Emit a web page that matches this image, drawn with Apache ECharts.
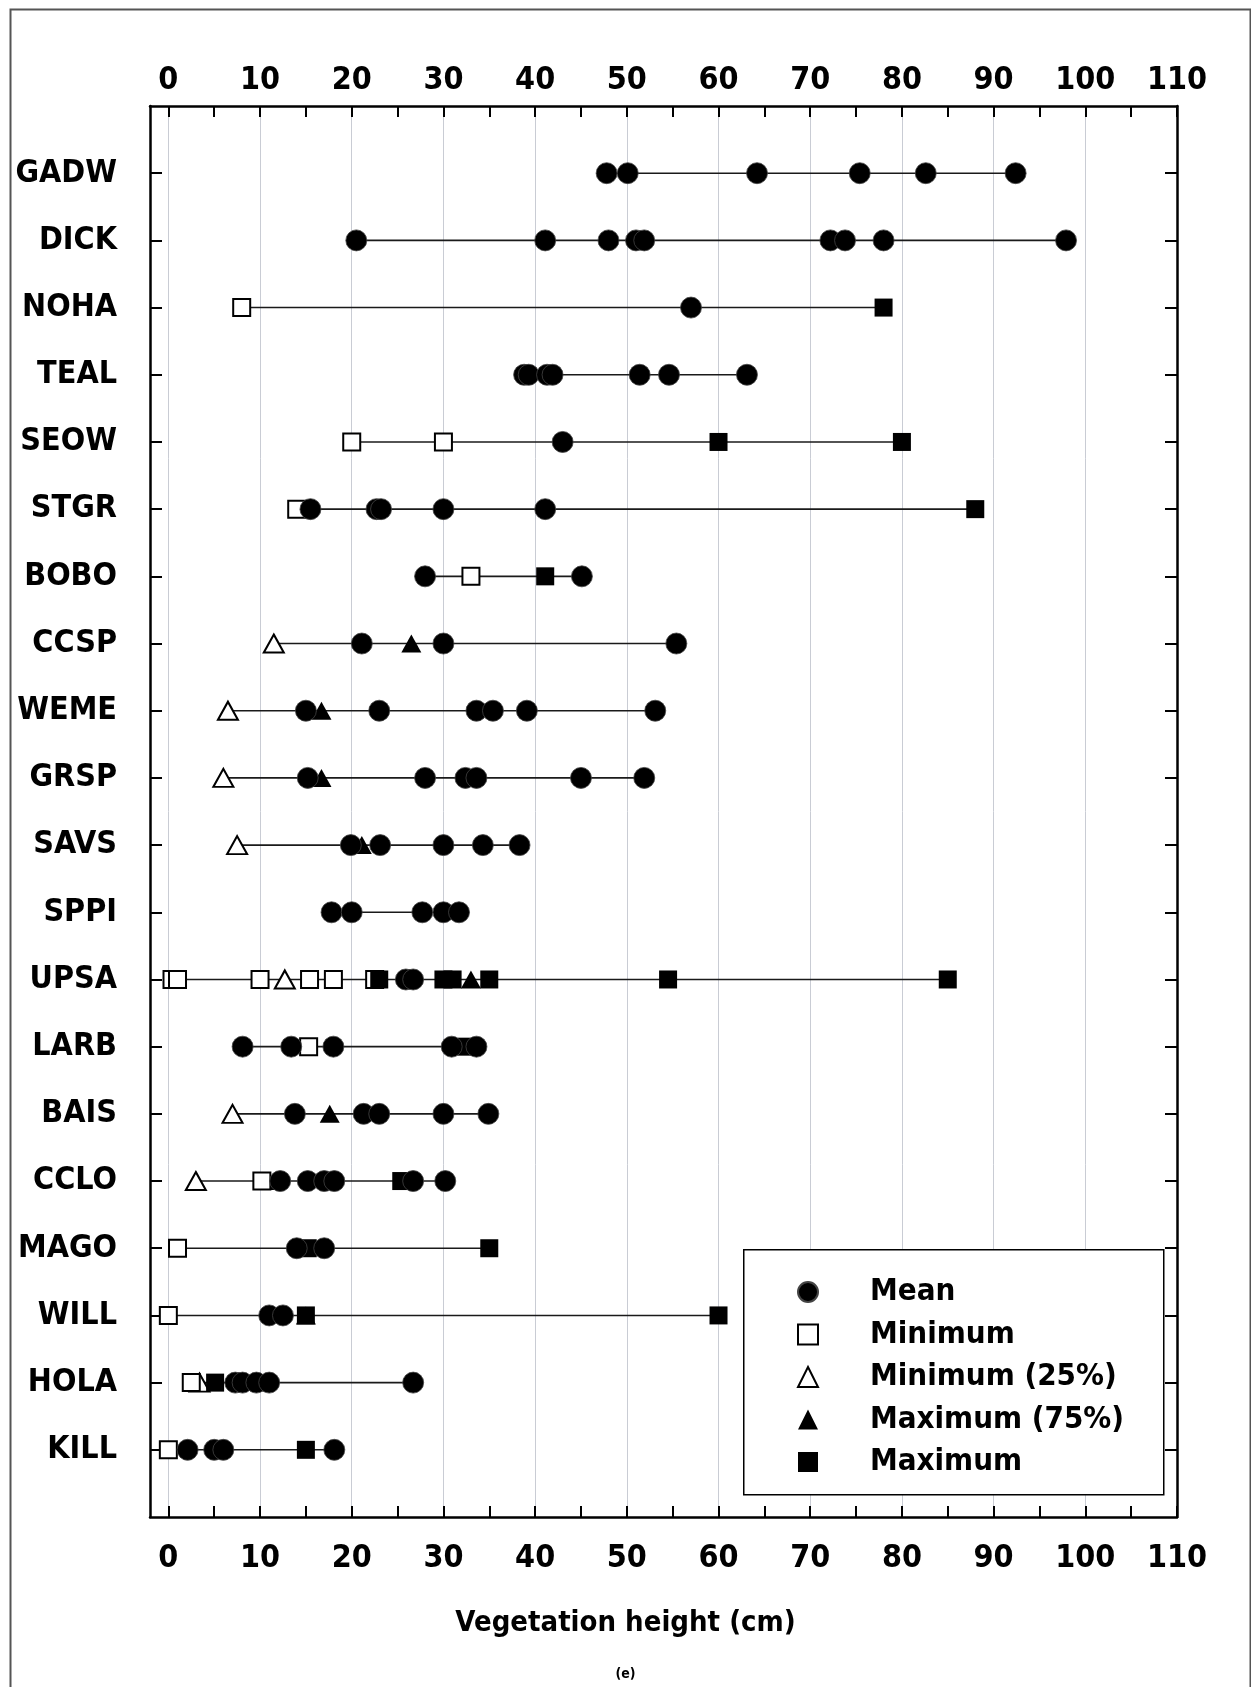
<!DOCTYPE html>
<html>
<head>
<meta charset="utf-8">
<script src="https://cdn.jsdelivr.net/npm/echarts@6/dist/echarts.min.js"></script>
<style>
html,body{margin:0;padding:0;background:#fff;}
#chart{width:1251px;height:1687px;}
</style>
</head>
<body>
<div id="chart"></div>
<script>
// ---- data ----
const categories = ['GADW','DICK','NOHA','TEAL','SEOW','STGR','BOBO','CCSP','WEME','GRSP','SAVS','SPPI','UPSA','LARB','BAIS','CCLO','MAGO','WILL','HOLA','KILL'];

const meanValues = [
  [47.8, 50.1, 64.2, 75.4, 82.6, 92.4],
  [20.5, 41.1, 48.0, 51.0, 51.9, 72.2, 73.8, 78.0, 97.9],
  [57.0],
  [38.8, 39.3, 41.3, 41.9, 51.4, 54.6, 63.1],
  [43.0],
  [15.5, 22.7, 23.2, 30.0, 41.1],
  [28.0, 45.1],
  [21.1, 30.0, 55.4],
  [15.0, 23.0, 33.6, 35.4, 39.1, 53.1],
  [15.2, 28.0, 32.4, 33.6, 45.0, 51.9],
  [19.9, 23.1, 30.0, 34.3, 38.3],
  [17.8, 20.0, 27.7, 30.0, 31.7],
  [25.9, 26.7],
  [8.1, 13.4, 18.0, 30.9, 33.6],
  [13.8, 21.3, 23.0, 30.0, 34.9],
  [12.2, 15.2, 17.0, 18.1, 26.7, 30.2],
  [14.0, 17.0],
  [11.0, 12.5],
  [7.3, 8.1, 9.6, 11.0, 26.7],
  [2.1, 5.0, 6.0, 18.1]
];

const minValues = [
  [], [], [8.0], [], [20.0, 30.0], [14.0], [33.0], [], [], [], [], [],
  [0.4, 1.0, 10.0, 15.4, 18.0, 22.5], [15.3], [], [10.2], [1.0], [0.0], [2.5], [0.0]
];

const min25Values = [
  [], [], [], [], [], [], [], [11.5], [6.5], [6.0], [7.5], [],
  [12.7], [], [7.0], [3.0], [], [], [3.4], []
];

const max75Values = [
  [], [], [], [], [], [], [], [26.5], [16.7], [16.7], [21.1], [],
  [33.0], [], [17.6], [11.6], [], [15.0], [10.0], []
];

const maxValues = [
  [], [], [78.0], [], [60.0, 80.0], [88.0], [41.1], [], [], [], [], [],
  [23.0, 30.0, 31.0, 35.0, 54.5, 85.0], [32.5], [], [25.4], [15.2, 35.0], [15.0, 60.0], [5.1], [15.0]
];

const xLabelValues = [0, 10, 20, 30, 40, 50, 60, 70, 80, 90, 100, 110];
const xTickValues = [0, 5, 10, 15, 20, 25, 30, 35, 40, 45, 50, 55, 60, 65, 70, 75, 80, 85, 90, 95, 100, 105, 110];
const xGridValues = [0, 10, 20, 30, 40, 50, 60, 70, 80, 90, 100];

// ---- build ----
const FONT = "'Liberation Sans Narrow', 'Arial Narrow', 'DejaVu Sans Condensed', 'Roboto Condensed', 'Liberation Sans', sans-serif";
const rowIdx = categories.map((c, i) => i + 1);

function toPoints(groups) {
  const out = [];
  groups.forEach((vals, i) => vals.forEach(v => out.push([v, i + 1])));
  return out;
}
const rangeData = categories.map((c, i) => {
  const all = [].concat(meanValues[i], minValues[i], min25Values[i], max75Values[i], maxValues[i]);
  return [Math.min.apply(null, all), Math.max.apply(null, all), i + 1];
});

const axisLineStyle = { show: true, onZero: false, lineStyle: { color: '#000', width: 2.5 } };
const labelStyle = { fontFamily: FONT, fontWeight: 'bold', fontSize: 32, color: '#000' };

const chart = echarts.init(document.getElementById('chart'), null, { renderer: 'canvas' });
chart.setOption({
  animation: false,
  backgroundColor: '#fff',
  title: [
    { text: 'Vegetation height (cm)', left: 'center', top: 1609, padding: 0,
      textStyle: { fontFamily: FONT, fontWeight: 'bold', fontSize: 29, color: '#000' } },
    { text: '(e)', left: 'center', top: 1667, padding: 0,
      textStyle: { fontFamily: FONT, fontWeight: 'bold', fontSize: 14, color: '#000' } }
  ],
  graphic: [
    { type: 'rect', left: 8, top: 7, z: 0, silent: true,
      shape: { width: 1240, height: 1700 },
      style: { fill: 'none', stroke: '#555', lineWidth: 2 } },
    { type: 'rect', left: 743, top: 1249, z: 3, silent: true,
      shape: { width: 420, height: 245 },
      style: { fill: '#fff', stroke: '#000', lineWidth: 1.5 } }
  ],
  grid: { left: 150, right: 74, top: 106, bottom: 170, containLabel: false },
  legend: {
    orient: 'vertical', left: 797, top: 1275, padding: 0, itemGap: 8.5,
    itemWidth: 20, itemHeight: 20, z: 10,
    data: ['Mean', 'Minimum', 'Minimum (25%)', 'Maximum (75%)', 'Maximum'],
    textStyle: { fontFamily: FONT, fontWeight: 'bold', fontSize: 31, color: '#000', lineHeight: 34, padding: [0, 0, 0, 47] }
  },
  xAxis: [
    { type: 'value', position: 'bottom', min: -2, max: 110,
      axisLine: axisLineStyle,
      axisTick: { show: true, inside: true, length: 11, customValues: xTickValues, lineStyle: { color: '#000', width: 2 } },
      axisLabel: Object.assign({ margin: 26, customValues: xLabelValues, showMinLabel: true, showMaxLabel: true }, labelStyle),
      splitLine: { show: false } },
    { type: 'value', position: 'top', min: -2, max: 110,
      axisLine: axisLineStyle,
      axisTick: { show: true, inside: true, length: 11, customValues: xTickValues, lineStyle: { color: '#000', width: 2 } },
      axisLabel: Object.assign({ margin: 9, customValues: xLabelValues, showMinLabel: true, showMaxLabel: true }, labelStyle),
      splitLine: { show: false } },
    { type: 'value', position: 'bottom', min: -2, max: 110,
      axisLine: { show: false, onZero: false },
      axisTick: { show: false, customValues: xGridValues },
      axisLabel: { show: false },
      splitLine: { show: true, lineStyle: { color: '#c9ccd4', width: 1 } } }
  ],
  yAxis: [
    { type: 'value', position: 'left', min: 0, max: 21, inverse: true,
      axisLine: axisLineStyle,
      axisTick: { show: true, inside: true, length: 12, customValues: rowIdx, lineStyle: { color: '#000', width: 2 } },
      axisLabel: Object.assign({ margin: 33, customValues: rowIdx,
        formatter: v => categories[v - 1] || '' }, labelStyle, { fontSize: 32 }),
      splitLine: { show: false } },
    { type: 'value', position: 'right', min: 0, max: 21, inverse: true,
      axisLine: axisLineStyle,
      axisTick: { show: true, inside: true, length: 12, customValues: rowIdx, lineStyle: { color: '#000', width: 2 } },
      axisLabel: { show: false },
      splitLine: { show: false } }
  ],
  series: [
    { type: 'custom', name: 'range', xAxisIndex: 0, yAxisIndex: 0, z: 2,
      data: rangeData, encode: { x: [0, 1], y: 2 },
      renderItem: function (params, api) {
        const a = api.coord([api.value(0), api.value(2)]);
        const b = api.coord([api.value(1), api.value(2)]);
        return { type: 'line', shape: { x1: a[0], y1: a[1], x2: b[0], y2: b[1] },
          style: { stroke: '#1a1a1a', lineWidth: 1.6 } };
      } },
    { type: 'scatter', name: 'Maximum (75%)', xAxisIndex: 0, yAxisIndex: 0, z: 3,
      symbol: 'triangle', symbolSize: [20, 18], data: toPoints(max75Values),
      itemStyle: { color: '#000', opacity: 1 } },
    { type: 'scatter', name: 'Minimum (25%)', xAxisIndex: 0, yAxisIndex: 0, z: 4,
      symbol: 'triangle', symbolSize: [20, 18], data: toPoints(min25Values),
      itemStyle: { color: '#fff', borderColor: '#000', borderWidth: 2, opacity: 1 } },
    { type: 'scatter', name: 'Minimum', xAxisIndex: 0, yAxisIndex: 0, z: 5,
      symbol: 'rect', symbolSize: 17, data: toPoints(minValues),
      itemStyle: { color: '#fff', borderColor: '#000', borderWidth: 2, opacity: 1 } },
    { type: 'scatter', name: 'Maximum', xAxisIndex: 0, yAxisIndex: 0, z: 6,
      symbol: 'rect', symbolSize: 18, data: toPoints(maxValues),
      itemStyle: { color: '#000', opacity: 1 } },
    { type: 'scatter', name: 'Mean', xAxisIndex: 0, yAxisIndex: 0, z: 7,
      symbol: 'circle', symbolSize: 21, data: toPoints(meanValues),
      itemStyle: { color: '#000', borderColor: '#444', borderWidth: 0.8, opacity: 1 } }
  ]
});
</script>
</body>
</html>
